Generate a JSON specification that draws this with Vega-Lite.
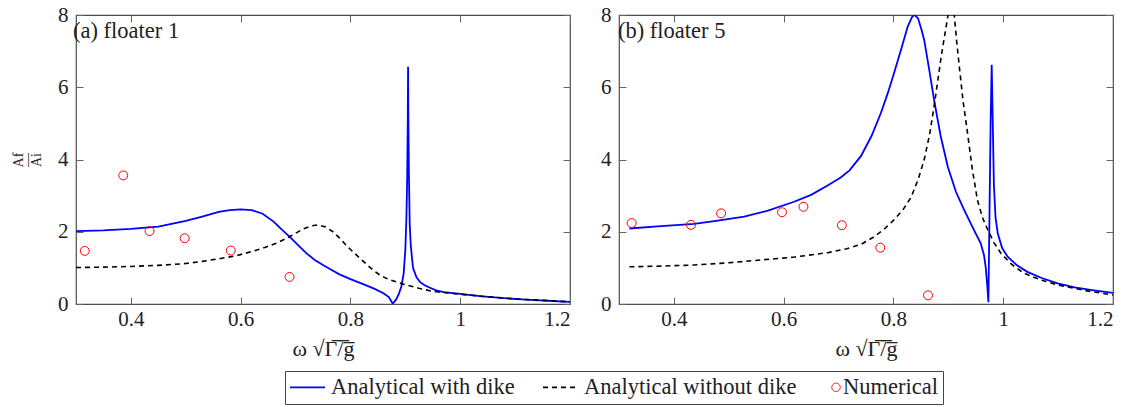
{
  "$schema": "https://vega.github.io/schema/vega-lite/v6.json",
  "background": "white",
  "padding": {"left": 10, "top": 3, "right": 5, "bottom": 0},
  "datasets": {
    "curves": [
      {"panel": "a", "series": "Analytical with dike", "w": 0.30, "a": 2.02},
      {"panel": "a", "series": "Analytical with dike", "w": 0.35, "a": 2.04},
      {"panel": "a", "series": "Analytical with dike", "w": 0.40, "a": 2.08},
      {"panel": "a", "series": "Analytical with dike", "w": 0.45, "a": 2.14},
      {"panel": "a", "series": "Analytical with dike", "w": 0.50, "a": 2.30},
      {"panel": "a", "series": "Analytical with dike", "w": 0.53, "a": 2.42},
      {"panel": "a", "series": "Analytical with dike", "w": 0.56, "a": 2.55},
      {"panel": "a", "series": "Analytical with dike", "w": 0.58, "a": 2.60},
      {"panel": "a", "series": "Analytical with dike", "w": 0.60, "a": 2.62},
      {"panel": "a", "series": "Analytical with dike", "w": 0.62, "a": 2.60},
      {"panel": "a", "series": "Analytical with dike", "w": 0.64, "a": 2.50},
      {"panel": "a", "series": "Analytical with dike", "w": 0.66, "a": 2.28},
      {"panel": "a", "series": "Analytical with dike", "w": 0.675, "a": 2.06},
      {"panel": "a", "series": "Analytical with dike", "w": 0.69, "a": 1.85},
      {"panel": "a", "series": "Analytical with dike", "w": 0.705, "a": 1.62},
      {"panel": "a", "series": "Analytical with dike", "w": 0.72, "a": 1.40},
      {"panel": "a", "series": "Analytical with dike", "w": 0.735, "a": 1.22},
      {"panel": "a", "series": "Analytical with dike", "w": 0.75, "a": 1.08},
      {"panel": "a", "series": "Analytical with dike", "w": 0.765, "a": 0.95},
      {"panel": "a", "series": "Analytical with dike", "w": 0.78, "a": 0.82},
      {"panel": "a", "series": "Analytical with dike", "w": 0.80, "a": 0.69},
      {"panel": "a", "series": "Analytical with dike", "w": 0.815, "a": 0.60},
      {"panel": "a", "series": "Analytical with dike", "w": 0.83, "a": 0.51},
      {"panel": "a", "series": "Analytical with dike", "w": 0.845, "a": 0.41},
      {"panel": "a", "series": "Analytical with dike", "w": 0.86, "a": 0.30},
      {"panel": "a", "series": "Analytical with dike", "w": 0.87, "a": 0.19},
      {"panel": "a", "series": "Analytical with dike", "w": 0.877, "a": 0.01},
      {"panel": "a", "series": "Analytical with dike", "w": 0.883, "a": 0.12},
      {"panel": "a", "series": "Analytical with dike", "w": 0.888, "a": 0.27},
      {"panel": "a", "series": "Analytical with dike", "w": 0.893, "a": 0.50},
      {"panel": "a", "series": "Analytical with dike", "w": 0.897, "a": 0.85},
      {"panel": "a", "series": "Analytical with dike", "w": 0.900, "a": 1.5},
      {"panel": "a", "series": "Analytical with dike", "w": 0.902, "a": 2.4},
      {"panel": "a", "series": "Analytical with dike", "w": 0.9035, "a": 3.6},
      {"panel": "a", "series": "Analytical with dike", "w": 0.9045, "a": 5.2},
      {"panel": "a", "series": "Analytical with dike", "w": 0.905, "a": 6.57},
      {"panel": "a", "series": "Analytical with dike", "w": 0.9055, "a": 5.2},
      {"panel": "a", "series": "Analytical with dike", "w": 0.9065, "a": 3.6},
      {"panel": "a", "series": "Analytical with dike", "w": 0.908, "a": 2.2},
      {"panel": "a", "series": "Analytical with dike", "w": 0.910, "a": 1.6},
      {"panel": "a", "series": "Analytical with dike", "w": 0.914, "a": 1.0},
      {"panel": "a", "series": "Analytical with dike", "w": 0.92, "a": 0.75},
      {"panel": "a", "series": "Analytical with dike", "w": 0.926, "a": 0.62},
      {"panel": "a", "series": "Analytical with dike", "w": 0.935, "a": 0.52},
      {"panel": "a", "series": "Analytical with dike", "w": 0.945, "a": 0.45},
      {"panel": "a", "series": "Analytical with dike", "w": 0.956, "a": 0.38},
      {"panel": "a", "series": "Analytical with dike", "w": 0.97, "a": 0.33},
      {"panel": "a", "series": "Analytical with dike", "w": 1.0, "a": 0.28},
      {"panel": "a", "series": "Analytical with dike", "w": 1.04, "a": 0.21},
      {"panel": "a", "series": "Analytical with dike", "w": 1.08, "a": 0.16},
      {"panel": "a", "series": "Analytical with dike", "w": 1.12, "a": 0.12},
      {"panel": "a", "series": "Analytical with dike", "w": 1.16, "a": 0.09},
      {"panel": "a", "series": "Analytical with dike", "w": 1.2, "a": 0.06},

      {"panel": "a", "series": "Analytical without dike", "w": 0.30, "a": 1.01},
      {"panel": "a", "series": "Analytical without dike", "w": 0.35, "a": 1.02},
      {"panel": "a", "series": "Analytical without dike", "w": 0.40, "a": 1.04},
      {"panel": "a", "series": "Analytical without dike", "w": 0.45, "a": 1.07},
      {"panel": "a", "series": "Analytical without dike", "w": 0.50, "a": 1.12},
      {"panel": "a", "series": "Analytical without dike", "w": 0.53, "a": 1.18},
      {"panel": "a", "series": "Analytical without dike", "w": 0.56, "a": 1.25},
      {"panel": "a", "series": "Analytical without dike", "w": 0.59, "a": 1.33},
      {"panel": "a", "series": "Analytical without dike", "w": 0.62, "a": 1.45},
      {"panel": "a", "series": "Analytical without dike", "w": 0.645, "a": 1.57},
      {"panel": "a", "series": "Analytical without dike", "w": 0.665, "a": 1.68},
      {"panel": "a", "series": "Analytical without dike", "w": 0.689, "a": 1.86},
      {"panel": "a", "series": "Analytical without dike", "w": 0.713, "a": 2.07},
      {"panel": "a", "series": "Analytical without dike", "w": 0.728, "a": 2.16},
      {"panel": "a", "series": "Analytical without dike", "w": 0.741, "a": 2.19},
      {"panel": "a", "series": "Analytical without dike", "w": 0.755, "a": 2.13},
      {"panel": "a", "series": "Analytical without dike", "w": 0.768, "a": 2.00},
      {"panel": "a", "series": "Analytical without dike", "w": 0.78, "a": 1.83},
      {"panel": "a", "series": "Analytical without dike", "w": 0.792, "a": 1.63},
      {"panel": "a", "series": "Analytical without dike", "w": 0.805, "a": 1.44},
      {"panel": "a", "series": "Analytical without dike", "w": 0.817, "a": 1.27},
      {"panel": "a", "series": "Analytical without dike", "w": 0.83, "a": 1.09},
      {"panel": "a", "series": "Analytical without dike", "w": 0.841, "a": 0.94},
      {"panel": "a", "series": "Analytical without dike", "w": 0.853, "a": 0.81},
      {"panel": "a", "series": "Analytical without dike", "w": 0.865, "a": 0.71},
      {"panel": "a", "series": "Analytical without dike", "w": 0.88, "a": 0.63},
      {"panel": "a", "series": "Analytical without dike", "w": 0.896, "a": 0.55},
      {"panel": "a", "series": "Analytical without dike", "w": 0.926, "a": 0.43},
      {"panel": "a", "series": "Analytical without dike", "w": 0.95, "a": 0.35},
      {"panel": "a", "series": "Analytical without dike", "w": 1.0, "a": 0.27},
      {"panel": "a", "series": "Analytical without dike", "w": 1.05, "a": 0.20},
      {"panel": "a", "series": "Analytical without dike", "w": 1.1, "a": 0.14},
      {"panel": "a", "series": "Analytical without dike", "w": 1.15, "a": 0.10},
      {"panel": "a", "series": "Analytical without dike", "w": 1.2, "a": 0.06},

      {"panel": "b", "series": "Analytical with dike", "w": 0.319, "a": 2.09},
      {"panel": "b", "series": "Analytical with dike", "w": 0.37, "a": 2.15},
      {"panel": "b", "series": "Analytical with dike", "w": 0.437, "a": 2.22},
      {"panel": "b", "series": "Analytical with dike", "w": 0.48, "a": 2.31},
      {"panel": "b", "series": "Analytical with dike", "w": 0.528, "a": 2.42},
      {"panel": "b", "series": "Analytical with dike", "w": 0.57, "a": 2.58},
      {"panel": "b", "series": "Analytical with dike", "w": 0.619, "a": 2.83},
      {"panel": "b", "series": "Analytical with dike", "w": 0.65, "a": 3.02},
      {"panel": "b", "series": "Analytical with dike", "w": 0.68, "a": 3.28},
      {"panel": "b", "series": "Analytical with dike", "w": 0.704, "a": 3.50},
      {"panel": "b", "series": "Analytical with dike", "w": 0.72, "a": 3.70},
      {"panel": "b", "series": "Analytical with dike", "w": 0.741, "a": 4.10},
      {"panel": "b", "series": "Analytical with dike", "w": 0.76, "a": 4.65},
      {"panel": "b", "series": "Analytical with dike", "w": 0.777, "a": 5.28},
      {"panel": "b", "series": "Analytical with dike", "w": 0.79, "a": 5.85},
      {"panel": "b", "series": "Analytical with dike", "w": 0.801, "a": 6.39},
      {"panel": "b", "series": "Analytical with dike", "w": 0.815, "a": 7.10},
      {"panel": "b", "series": "Analytical with dike", "w": 0.826, "a": 7.68},
      {"panel": "b", "series": "Analytical with dike", "w": 0.834, "a": 7.95},
      {"panel": "b", "series": "Analytical with dike", "w": 0.839, "a": 8.0},
      {"panel": "b", "series": "Analytical with dike", "w": 0.845, "a": 7.9},
      {"panel": "b", "series": "Analytical with dike", "w": 0.851, "a": 7.6},
      {"panel": "b", "series": "Analytical with dike", "w": 0.856, "a": 7.31},
      {"panel": "b", "series": "Analytical with dike", "w": 0.865, "a": 6.5},
      {"panel": "b", "series": "Analytical with dike", "w": 0.874, "a": 5.65},
      {"panel": "b", "series": "Analytical with dike", "w": 0.886, "a": 4.65},
      {"panel": "b", "series": "Analytical with dike", "w": 0.899, "a": 3.80},
      {"panel": "b", "series": "Analytical with dike", "w": 0.914, "a": 3.10},
      {"panel": "b", "series": "Analytical with dike", "w": 0.929, "a": 2.60},
      {"panel": "b", "series": "Analytical with dike", "w": 0.945, "a": 2.10},
      {"panel": "b", "series": "Analytical with dike", "w": 0.959, "a": 1.68},
      {"panel": "b", "series": "Analytical with dike", "w": 0.965, "a": 1.35},
      {"panel": "b", "series": "Analytical with dike", "w": 0.968, "a": 1.03},
      {"panel": "b", "series": "Analytical with dike", "w": 0.971, "a": 0.5},
      {"panel": "b", "series": "Analytical with dike", "w": 0.973, "a": 0.05},
      {"panel": "b", "series": "Analytical with dike", "w": 0.975, "a": 2.5},
      {"panel": "b", "series": "Analytical with dike", "w": 0.977, "a": 5.0},
      {"panel": "b", "series": "Analytical with dike", "w": 0.979, "a": 6.62},
      {"panel": "b", "series": "Analytical with dike", "w": 0.981, "a": 5.0},
      {"panel": "b", "series": "Analytical with dike", "w": 0.983, "a": 3.3},
      {"panel": "b", "series": "Analytical with dike", "w": 0.986, "a": 2.4},
      {"panel": "b", "series": "Analytical with dike", "w": 0.99, "a": 1.96},
      {"panel": "b", "series": "Analytical with dike", "w": 0.998, "a": 1.55},
      {"panel": "b", "series": "Analytical with dike", "w": 1.008, "a": 1.31},
      {"panel": "b", "series": "Analytical with dike", "w": 1.025, "a": 1.07},
      {"panel": "b", "series": "Analytical with dike", "w": 1.044, "a": 0.89},
      {"panel": "b", "series": "Analytical with dike", "w": 1.07, "a": 0.72},
      {"panel": "b", "series": "Analytical with dike", "w": 1.099, "a": 0.57},
      {"panel": "b", "series": "Analytical with dike", "w": 1.13, "a": 0.46},
      {"panel": "b", "series": "Analytical with dike", "w": 1.165, "a": 0.38},
      {"panel": "b", "series": "Analytical with dike", "w": 1.2, "a": 0.31},

      {"panel": "b", "series": "Analytical without dike", "w": 0.319, "a": 1.03},
      {"panel": "b", "series": "Analytical without dike", "w": 0.38, "a": 1.05},
      {"panel": "b", "series": "Analytical without dike", "w": 0.437, "a": 1.08},
      {"panel": "b", "series": "Analytical without dike", "w": 0.5, "a": 1.14},
      {"panel": "b", "series": "Analytical without dike", "w": 0.559, "a": 1.22},
      {"panel": "b", "series": "Analytical without dike", "w": 0.62, "a": 1.30},
      {"panel": "b", "series": "Analytical without dike", "w": 0.68, "a": 1.42},
      {"panel": "b", "series": "Analytical without dike", "w": 0.715, "a": 1.53},
      {"panel": "b", "series": "Analytical without dike", "w": 0.741, "a": 1.65},
      {"panel": "b", "series": "Analytical without dike", "w": 0.765, "a": 1.86},
      {"panel": "b", "series": "Analytical without dike", "w": 0.785, "a": 2.10},
      {"panel": "b", "series": "Analytical without dike", "w": 0.801, "a": 2.33},
      {"panel": "b", "series": "Analytical without dike", "w": 0.817, "a": 2.60},
      {"panel": "b", "series": "Analytical without dike", "w": 0.832, "a": 2.95},
      {"panel": "b", "series": "Analytical without dike", "w": 0.845, "a": 3.45},
      {"panel": "b", "series": "Analytical without dike", "w": 0.856, "a": 3.99},
      {"panel": "b", "series": "Analytical without dike", "w": 0.866, "a": 4.70},
      {"panel": "b", "series": "Analytical without dike", "w": 0.874, "a": 5.47},
      {"panel": "b", "series": "Analytical without dike", "w": 0.881, "a": 6.20},
      {"panel": "b", "series": "Analytical without dike", "w": 0.887, "a": 6.85},
      {"panel": "b", "series": "Analytical without dike", "w": 0.894, "a": 7.50},
      {"panel": "b", "series": "Analytical without dike", "w": 0.899, "a": 7.96},
      {"panel": "b", "series": "Analytical without dike", "w": 0.905, "a": 8.6},
      {"panel": "b", "series": "Analytical without dike", "w": 0.911, "a": 7.96},
      {"panel": "b", "series": "Analytical without dike", "w": 0.915, "a": 7.30},
      {"panel": "b", "series": "Analytical without dike", "w": 0.920, "a": 6.57},
      {"panel": "b", "series": "Analytical without dike", "w": 0.927, "a": 5.60},
      {"panel": "b", "series": "Analytical without dike", "w": 0.935, "a": 4.73},
      {"panel": "b", "series": "Analytical without dike", "w": 0.944, "a": 3.70},
      {"panel": "b", "series": "Analytical without dike", "w": 0.953, "a": 2.88},
      {"panel": "b", "series": "Analytical without dike", "w": 0.962, "a": 2.40},
      {"panel": "b", "series": "Analytical without dike", "w": 0.972, "a": 2.05},
      {"panel": "b", "series": "Analytical without dike", "w": 0.983, "a": 1.70},
      {"panel": "b", "series": "Analytical without dike", "w": 0.996, "a": 1.40},
      {"panel": "b", "series": "Analytical without dike", "w": 1.015, "a": 1.10},
      {"panel": "b", "series": "Analytical without dike", "w": 1.038, "a": 0.85},
      {"panel": "b", "series": "Analytical without dike", "w": 1.07, "a": 0.66},
      {"panel": "b", "series": "Analytical without dike", "w": 1.099, "a": 0.53},
      {"panel": "b", "series": "Analytical without dike", "w": 1.15, "a": 0.37},
      {"panel": "b", "series": "Analytical without dike", "w": 1.2, "a": 0.25}
    ],
    "numerical": [
      {"panel": "a", "series": "Numerical", "w": 0.316, "a": 1.47},
      {"panel": "a", "series": "Numerical", "w": 0.386, "a": 3.56},
      {"panel": "a", "series": "Numerical", "w": 0.434, "a": 2.02},
      {"panel": "a", "series": "Numerical", "w": 0.498, "a": 1.82},
      {"panel": "a", "series": "Numerical", "w": 0.582, "a": 1.48},
      {"panel": "a", "series": "Numerical", "w": 0.689, "a": 0.75},
      {"panel": "b", "series": "Numerical", "w": 0.323, "a": 2.24},
      {"panel": "b", "series": "Numerical", "w": 0.431, "a": 2.19},
      {"panel": "b", "series": "Numerical", "w": 0.486, "a": 2.51},
      {"panel": "b", "series": "Numerical", "w": 0.597, "a": 2.54},
      {"panel": "b", "series": "Numerical", "w": 0.636, "a": 2.69},
      {"panel": "b", "series": "Numerical", "w": 0.706, "a": 2.18},
      {"panel": "b", "series": "Numerical", "w": 0.776, "a": 1.56},
      {"panel": "b", "series": "Numerical", "w": 0.863, "a": 0.24}
    ]
  },
  "spacing": 27,
  "resolve": {"scale": {"color": "shared"}, "legend": {"color": "shared"}},
  "hconcat": [
    {
      "width": 494,
      "height": 289,
      "title": {"text": "(a) floater 1", "anchor": "start", "frame": "group", "orient": "top", "offset": -38, "dx": -3},
      "layer": [
        {
          "data": {"name": "curves"},
          "transform": [{"filter": "datum.panel === 'a' && datum.series === 'Analytical with dike'"}],
          "mark": {"type": "line", "strokeWidth": 1.8, "clip": true},
          "encoding": {
            "x": {"field": "w", "type": "quantitative", "scale": {"domain": [0.3, 1.2], "nice": false, "zero": false},
                  "axis": {"orient": "bottom", "values": [0.4, 0.6, 0.8, 1, 1.2], "format": "~g", "labelFont": "Liberation Serif", "labelPadding": 11, "title": "ω √Γ̅/̅g̅", "titlePadding": 9}},
            "y": {"field": "a", "type": "quantitative", "scale": {"domain": [0, 8], "nice": false},
                  "axis": {"orient": "left", "values": [0, 2, 4, 6, 8], "labelFont": "Liberation Serif", "title": ["Af", "—", "Ai"], "titleFontSize": 14, "titleLineHeight": 9, "titlePadding": 14}},
            "color": {"field": "series", "type": "nominal",
                      "scale": {"domain": ["Analytical with dike", "Analytical without dike", "Numerical"], "range": ["#0000ff", "#000000", "#ff0000"]},
                      "legend": {
                        "orient": "none", "legendX": 209, "legendY": 356, "direction": "horizontal", "title": null,
                        "strokeColor": "#444", "padding": 5, "columnPadding": 24,
                        "labelFont": "Liberation Serif", "labelFontSize": 22.5, "labelColor": "#222", "labelOffset": 5, "labelLimit": 400,
                        "symbolSize": 1225,
                        "encode": {
                          "symbols": {"update": {
                            "shape": {"signal": "datum.value === 'Numerical' ? 'circle' : 'stroke'"},
                            "size": {"signal": "datum.value === 'Numerical' ? 70 : 1225"},
                            "strokeDash": {"signal": "datum.value === 'Analytical without dike' ? [5, 4] : [1, 0]"},
                            "strokeWidth": {"signal": "datum.value === 'Numerical' ? 1 : 1.6"},
                            "fill": {"value": "transparent"},
                            "opacity": {"value": 1},
                            "x": {"signal": "datum.value === 'Numerical' ? 15 : 17.5"}
                          }},
                          "labels": {"update": {"x": {"signal": "datum.value === 'Numerical' ? 22 : 41"}}}
                        }
                      }}
          }
        },
        {
          "data": {"name": "curves"},
          "transform": [{"filter": "datum.panel === 'a' && datum.series === 'Analytical without dike'"}],
          "mark": {"type": "line", "strokeWidth": 1.6, "strokeDash": [5, 4], "clip": true},
          "encoding": {
            "x": {"field": "w", "type": "quantitative", "axis": {"orient": "top", "values": [0.4, 0.6, 0.8, 1, 1.2], "labels": false, "title": null}},
            "y": {"field": "a", "type": "quantitative", "axis": {"orient": "right", "values": [0, 2, 4, 6, 8], "labels": false, "title": null}},
            "color": {"field": "series", "type": "nominal"}
          }
        },
        {
          "data": {"name": "numerical"},
          "transform": [{"filter": "datum.panel === 'a'"}],
          "mark": {"type": "point", "filled": false, "size": 80, "strokeWidth": 1, "opacity": 1},
          "encoding": {
            "x": {"field": "w", "type": "quantitative", "axis": null},
            "y": {"field": "a", "type": "quantitative", "axis": null},
            "color": {"field": "series", "type": "nominal"}
          }
        }
      ],
      "resolve": {"axis": {"x": "independent", "y": "independent"}}
    },
    {
      "width": 494,
      "height": 289,
      "title": {"text": "(b) floater 5", "anchor": "start", "frame": "group", "orient": "top", "offset": -38, "dx": -1},
      "layer": [
        {
          "data": {"name": "curves"},
          "transform": [{"filter": "datum.panel === 'b' && datum.series === 'Analytical with dike'"}],
          "mark": {"type": "line", "strokeWidth": 1.8, "clip": true},
          "encoding": {
            "x": {"field": "w", "type": "quantitative", "scale": {"domain": [0.3, 1.2], "nice": false, "zero": false},
                  "axis": {"orient": "bottom", "values": [0.4, 0.6, 0.8, 1, 1.2], "format": "~g", "labelFont": "Liberation Serif", "labelPadding": 11, "title": "ω √Γ̅/̅g̅", "titlePadding": 9}},
            "y": {"field": "a", "type": "quantitative", "scale": {"domain": [0, 8], "nice": false},
                  "axis": {"orient": "left", "values": [0, 2, 4, 6, 8], "labelFont": "Liberation Serif", "title": null}},
            "color": {"field": "series", "type": "nominal"}
          }
        },
        {
          "data": {"name": "curves"},
          "transform": [{"filter": "datum.panel === 'b' && datum.series === 'Analytical without dike'"}],
          "mark": {"type": "line", "strokeWidth": 1.6, "strokeDash": [5, 4], "clip": true},
          "encoding": {
            "x": {"field": "w", "type": "quantitative", "axis": {"orient": "top", "values": [0.4, 0.6, 0.8, 1, 1.2], "labels": false, "title": null}},
            "y": {"field": "a", "type": "quantitative", "axis": {"orient": "right", "values": [0, 2, 4, 6, 8], "labels": false, "title": null}},
            "color": {"field": "series", "type": "nominal"}
          }
        },
        {
          "data": {"name": "numerical"},
          "transform": [{"filter": "datum.panel === 'b'"}],
          "mark": {"type": "point", "filled": false, "size": 80, "strokeWidth": 1, "opacity": 1},
          "encoding": {
            "x": {"field": "w", "type": "quantitative", "axis": null},
            "y": {"field": "a", "type": "quantitative", "axis": null},
            "color": {"field": "series", "type": "nominal"}
          }
        }
      ],
      "resolve": {"axis": {"x": "independent", "y": "independent"}}
    }
  ],
  "config": {
    "font": "Liberation Serif",
    "view": {"stroke": "#4d4d4d", "strokeWidth": 1.2},
    "title": {"font": "Liberation Serif", "fontSize": 22.5, "fontWeight": "normal", "color": "#222", "baseline": "top"},
    "axis": {
      "domain": false, "grid": false,
      "tickColor": "#666", "tickSize": -7, "tickWidth": 1,
      "labelFont": "Liberation Serif", "labelFontSize": 21, "labelColor": "#222", "labelPadding": 15,
      "titleFont": "Liberation Serif", "titleFontSize": 22, "titleFontWeight": "normal", "titleColor": "#222"
    }
  }
}
